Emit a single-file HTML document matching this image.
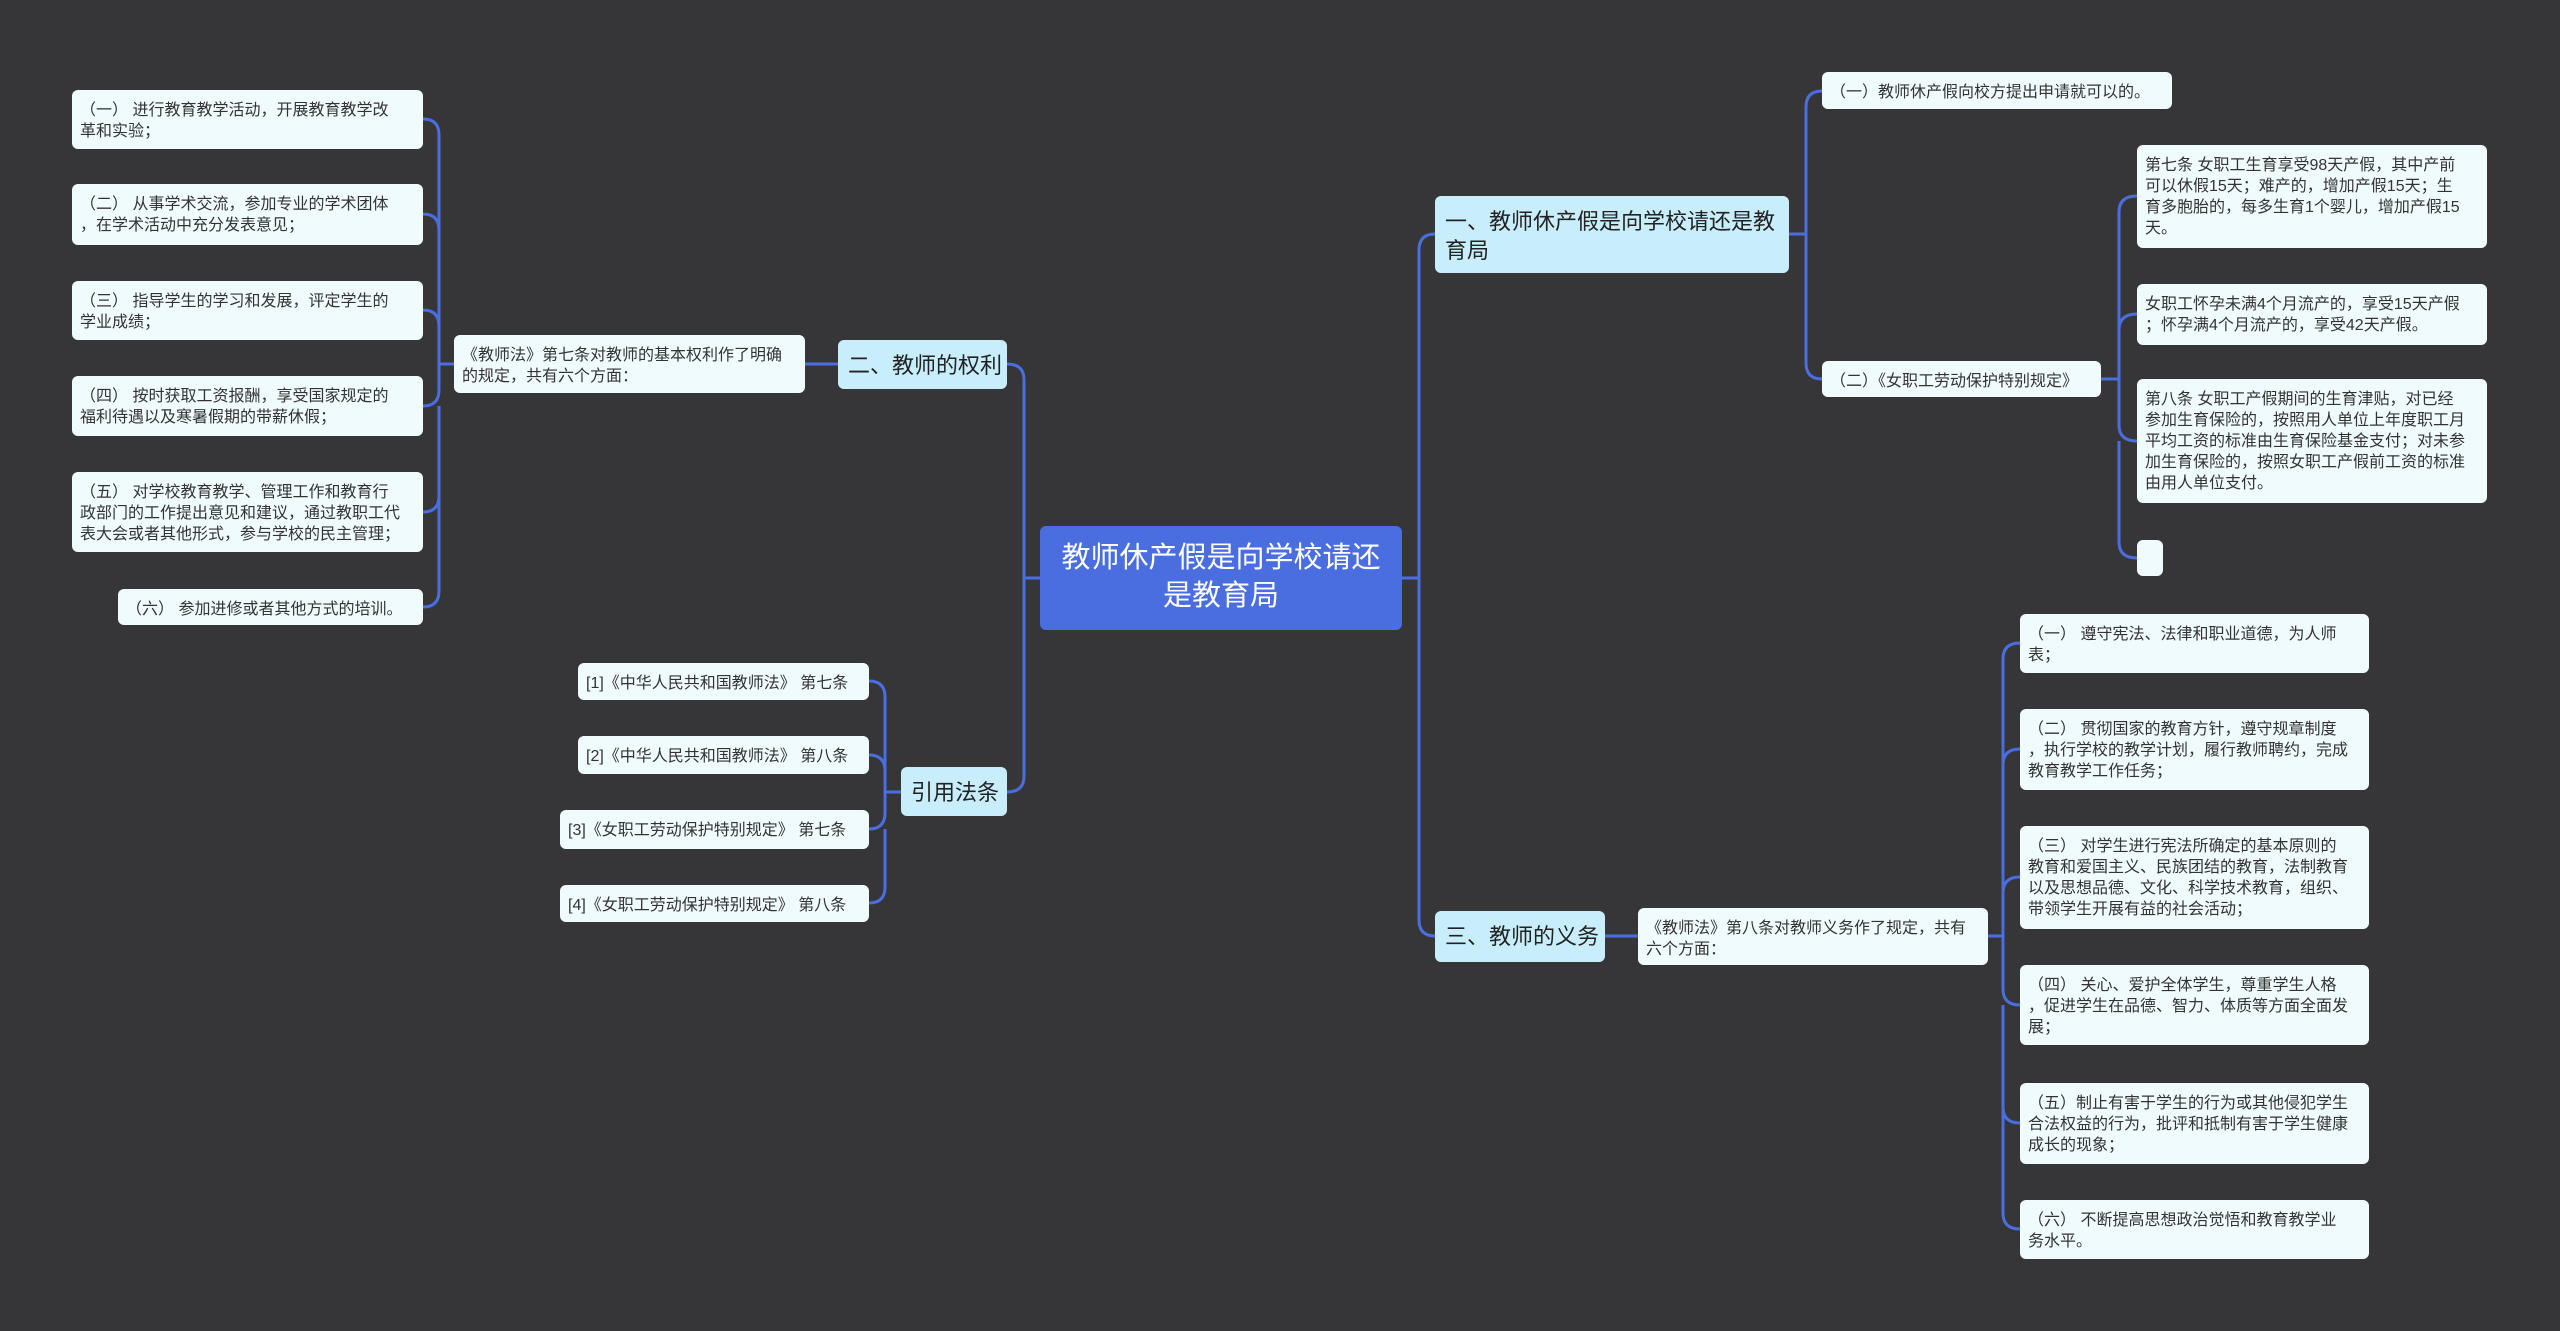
<!DOCTYPE html>
<html><head><meta charset="utf-8"><style>
body{margin:0;width:2560px;height:1331px;background:#363538;overflow:hidden;position:relative;font-family:"Liberation Sans","Noto Sans CJK SC",sans-serif}
.n{position:absolute;box-sizing:border-box;border-radius:6px;background:#f0fbfe;color:#333;font-size:16px;line-height:21px;padding:10px 8px 4px;white-space:nowrap;overflow:hidden}
.l1{background:#c8eefc;font-size:22px;line-height:29px;color:#222;padding:11px 10px 7px}
.c{background:#4a6ee0;color:#fff;font-size:29px;line-height:38px;text-align:center;padding:13px 8px 7px;border-radius:6px}
svg{position:absolute;left:0;top:0}
</style></head><body>
<svg width="2560" height="1331" fill="none" stroke="#4a6ee0" stroke-width="3" stroke-linejoin="round">
<path d="M1402 578H1419V250Q1419 234 1435 234M1419 578V920Q1419 936 1435 936"/>
<path d="M1040 578H1024V380Q1024 364 1007 364M1024 578V776Q1024 792 1007 792"/>
<path d="M1789 234H1806V107Q1806 91 1822 91M1806 234V363Q1806 379 1822 379"/>
<path d="M2101 379H2119V212Q2119 196 2137 196M2119 330Q2119 314 2137 314M2119 379V425Q2119 441 2137 441M2119 441V542Q2119 558 2137 558"/>
<path d="M1605 936H1638"/>
<path d="M1988 936H2003V659Q2003 643 2020 643M2003 765Q2003 749 2020 749M2003 893Q2003 877 2020 877M2003 936V989Q2003 1005 2020 1005M2003 1107Q2003 1123 2020 1123M2003 1005V1213Q2003 1229 2020 1229"/>
<path d="M838 364H805"/>
<path d="M454 364H439V135Q439 119 423 119M439 230Q439 214 423 214M439 326Q439 310 423 310M439 364V390Q439 406 423 406M439 496Q439 512 423 512M439 406V591Q439 607 423 607"/>
<path d="M901 792H885V697Q885 681 869 681M885 771Q885 755 869 755M885 792V813Q885 829 869 829M885 829V887Q885 903 869 903"/>
</svg>
<div class="n c" style="left:1040px;top:526px;width:362px;height:104px">教师休产假是向学校请还<br>是教育局</div>
<div class="n l1" style="left:1435px;top:196px;width:354px;height:77px">一、教师休产假是向学校请还是教<br>育局</div>
<div class="n l1" style="left:838px;top:340px;width:169px;height:49px">二、教师的权利</div>
<div class="n l1" style="left:901px;top:767px;width:106px;height:49px">引用法条</div>
<div class="n l1" style="left:1435px;top:911px;width:170px;height:51px">三、教师的义务</div>

<div class="n" style="left:1822px;top:72px;width:350px;height:37px">（一）教师休产假向校方提出申请就可以的。</div>
<div class="n" style="left:1822px;top:361px;width:279px;height:36px">（二）《女职工劳动保护特别规定》</div>
<div class="n" style="left:2137px;top:145px;width:350px;height:103px">第七条 女职工生育享受98天产假，其中产前<br>可以休假15天；难产的，增加产假15天；生<br>育多胞胎的，每多生育1个婴儿，增加产假15<br>天。</div>
<div class="n" style="left:2137px;top:284px;width:350px;height:61px">女职工怀孕未满4个月流产的，享受15天产假<br>；怀孕满4个月流产的，享受42天产假。</div>
<div class="n" style="left:2137px;top:379px;width:350px;height:124px">第八条 女职工产假期间的生育津贴，对已经<br>参加生育保险的，按照用人单位上年度职工月<br>平均工资的标准由生育保险基金支付；对未参<br>加生育保险的，按照女职工产假前工资的标准<br>由用人单位支付。</div>
<div class="n" style="left:2137px;top:540px;width:26px;height:36px"></div>

<div class="n" style="left:454px;top:335px;width:351px;height:58px">《教师法》第七条对教师的基本权利作了明确<br>的规定，共有六个方面：</div>
<div class="n" style="left:72px;top:90px;width:351px;height:59px">（一） 进行教育教学活动，开展教育教学改<br>革和实验；</div>
<div class="n" style="left:72px;top:184px;width:351px;height:61px">（二） 从事学术交流，参加专业的学术团体<br>，在学术活动中充分发表意见；</div>
<div class="n" style="left:72px;top:281px;width:351px;height:59px">（三） 指导学生的学习和发展，评定学生的<br>学业成绩；</div>
<div class="n" style="left:72px;top:376px;width:351px;height:60px">（四） 按时获取工资报酬，享受国家规定的<br>福利待遇以及寒暑假期的带薪休假；</div>
<div class="n" style="left:72px;top:472px;width:351px;height:80px">（五） 对学校教育教学、管理工作和教育行<br>政部门的工作提出意见和建议，通过教职工代<br>表大会或者其他形式，参与学校的民主管理；</div>
<div class="n" style="left:118px;top:589px;width:305px;height:36px">（六） 参加进修或者其他方式的培训。</div>

<div class="n" style="left:578px;top:663px;width:291px;height:37px">[1]《中华人民共和国教师法》 第七条</div>
<div class="n" style="left:578px;top:736px;width:291px;height:38px">[2]《中华人民共和国教师法》 第八条</div>
<div class="n" style="left:560px;top:810px;width:309px;height:39px">[3]《女职工劳动保护特别规定》 第七条</div>
<div class="n" style="left:560px;top:885px;width:309px;height:37px">[4]《女职工劳动保护特别规定》 第八条</div>

<div class="n" style="left:1638px;top:908px;width:350px;height:57px">《教师法》第八条对教师义务作了规定，共有<br>六个方面：</div>
<div class="n" style="left:2020px;top:614px;width:349px;height:59px">（一） 遵守宪法、法律和职业道德，为人师<br>表；</div>
<div class="n" style="left:2020px;top:709px;width:349px;height:81px">（二） 贯彻国家的教育方针，遵守规章制度<br>，执行学校的教学计划，履行教师聘约，完成<br>教育教学工作任务；</div>
<div class="n" style="left:2020px;top:826px;width:349px;height:103px">（三） 对学生进行宪法所确定的基本原则的<br>教育和爱国主义、民族团结的教育，法制教育<br>以及思想品德、文化、科学技术教育，组织、<br>带领学生开展有益的社会活动；</div>
<div class="n" style="left:2020px;top:965px;width:349px;height:80px">（四） 关心、爱护全体学生，尊重学生人格<br>，促进学生在品德、智力、体质等方面全面发<br>展；</div>
<div class="n" style="left:2020px;top:1083px;width:349px;height:81px">（五）制止有害于学生的行为或其他侵犯学生<br>合法权益的行为，批评和抵制有害于学生健康<br>成长的现象；</div>
<div class="n" style="left:2020px;top:1200px;width:349px;height:59px">（六） 不断提高思想政治觉悟和教育教学业<br>务水平。</div>
</body></html>
